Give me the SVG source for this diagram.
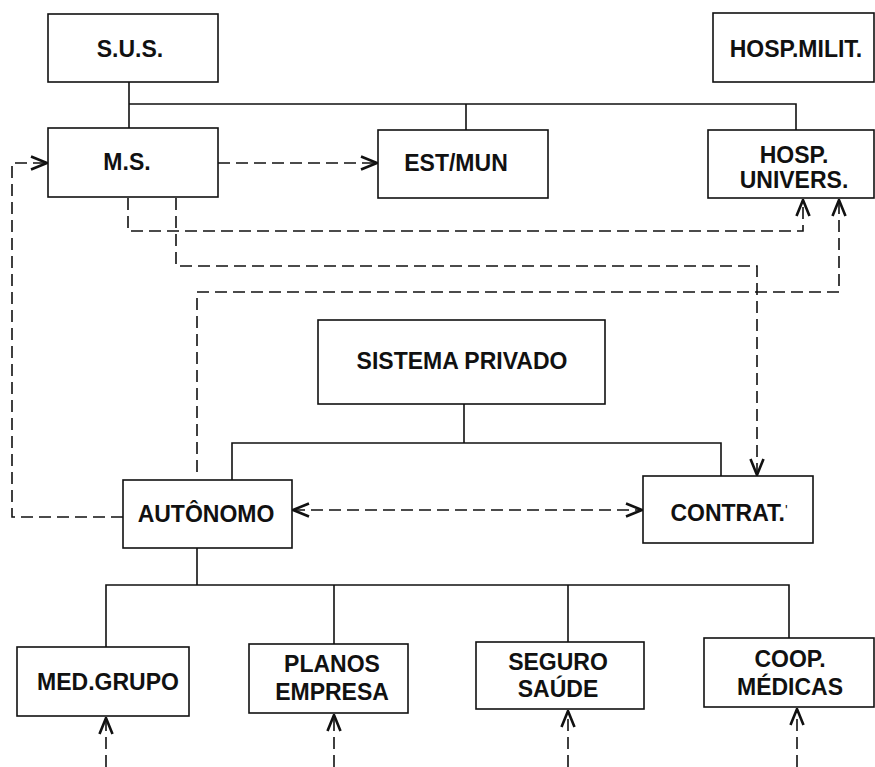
<svg xmlns="http://www.w3.org/2000/svg" width="875" height="767" viewBox="0 0 875 767">
<style>
.box{fill:#fff;stroke:#111;stroke-width:1.6}
.t{font-family:"Liberation Sans",Arial,sans-serif;font-weight:bold;font-size:23px;fill:#111;text-anchor:middle}
.s{fill:none;stroke:#111;stroke-width:1.6}
.d{fill:none;stroke:#111;stroke-width:1.6;stroke-dasharray:12,6}
</style>
<defs>
<marker id="ah" viewBox="0 0 18 16" refX="17" refY="8" markerWidth="18" markerHeight="16" markerUnits="userSpaceOnUse" orient="auto-start-reverse">
<path d="M1,1.5 L17,8 L1,14.5" fill="none" stroke="#111" stroke-width="2.6"/>
</marker>
</defs>
<rect width="875" height="767" fill="#fff"/>
<g id="connectors">
<path class="s" d="M129,82 V128 M129,104 H796 V130 M466,104 V130"/>
<path class="s" d="M464,404 V443 M232,480 V443 H721 V476"/>
<path class="s" d="M197,548 V585 M106,647 V585 H789 V638 M334,585 V644 M568,585 V642"/>
<path class="d" d="M218,163 H377" marker-end="url(#ah)"/>
<path class="d" d="M123,517 H12 V163 H47" marker-end="url(#ah)"/>
<path class="d" d="M128,198 V231 H803 V200" marker-end="url(#ah)"/>
<path class="d" d="M176,198 V266 H757 V475" marker-end="url(#ah)"/>
<path class="d" d="M197,472 V292 H839 V200" marker-end="url(#ah)"/>
<path class="d" d="M293,510 H642" marker-start="url(#ah)" marker-end="url(#ah)"/>
<path class="d" d="M106,767 V718" marker-end="url(#ah)"/>
<path class="d" d="M334,767 V715" marker-end="url(#ah)"/>
<path class="d" d="M568,767 V711" marker-end="url(#ah)"/>
<path class="d" d="M797,767 V709" marker-end="url(#ah)"/>
</g>
<g id="sus"><rect class="box" x="48" y="14" width="170" height="68"/><text class="t" x="130" y="57">S.U.S.</text></g>
<g id="hospmilit"><rect class="box" x="713" y="13" width="161" height="69"/><text class="t" x="796" y="57">HOSP.MILIT.</text></g>
<g id="ms"><rect class="box" x="48" y="128" width="170" height="69"/><text class="t" x="127" y="170">M.S.</text></g>
<g id="estmun"><rect class="box" x="378" y="130" width="170" height="68"/><text class="t" x="456" y="171">EST/MUN</text></g>
<g id="hospunivers"><rect class="box" x="708" y="130" width="166" height="68"/><text class="t" x="794" y="163">HOSP.</text><text class="t" x="794" y="188">UNIVERS.</text></g>
<g id="sistemaprivado"><rect class="box" x="318" y="320" width="287" height="84"/><text class="t" x="462" y="369">SISTEMA PRIVADO</text></g>
<g id="autonomo"><rect class="box" x="123" y="480" width="169" height="68"/><text class="t" x="206" y="522">AUTÔNOMO</text></g>
<g id="contrat"><rect class="box" x="643" y="476" width="170" height="67"/><text class="t" x="729" y="521">CONTRAT.<tspan font-weight="normal" font-size="14" dy="-6">'</tspan></text></g>
<g id="medgrupo"><rect class="box" x="17" y="647" width="172" height="69"/><text class="t" x="108" y="690">MED.GRUPO</text></g>
<g id="planosempresa"><rect class="box" x="249" y="644" width="159" height="69"/><text class="t" x="332" y="672">PLANOS</text><text class="t" x="332" y="700">EMPRESA</text></g>
<g id="segurosaude"><rect class="box" x="476" y="642" width="168" height="67"/><text class="t" x="558" y="670">SEGURO</text><text class="t" x="558" y="697">SAÚDE</text></g>
<g id="coopmedicas"><rect class="box" x="704" y="638" width="170" height="69"/><text class="t" x="790" y="667">COOP.</text><text class="t" x="790" y="695">MÉDICAS</text></g>
</svg>
